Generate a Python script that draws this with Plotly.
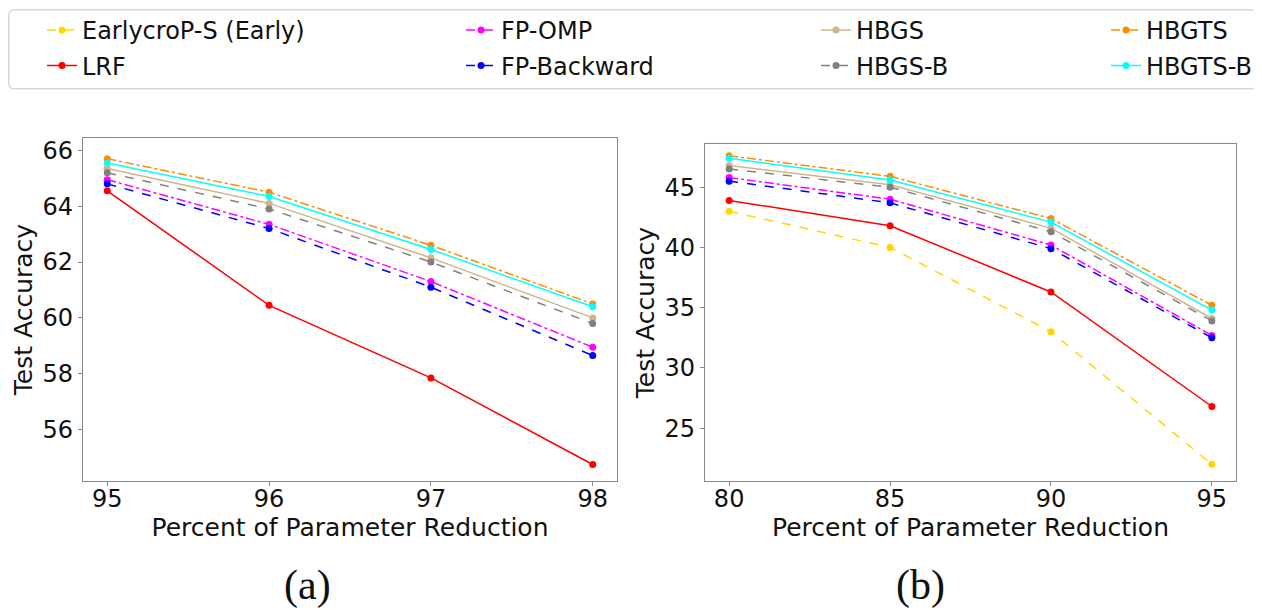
import plotly.graph_objects as go

# ---- data ----
x_a = [95, 96, 97, 98]
x_b = [80, 85, 90, 95]

names = ["EarlycroP-S (Early)", "LRF", "FP-OMP", "FP-Backward",
         "HBGS", "HBGS-B", "HBGTS", "HBGTS-B"]

a_lrf = [64.55, 60.45, 57.85, 54.75]
a_fpomp = [64.95, 63.35, 61.3, 58.95]
a_fpback = [64.8, 63.2, 61.1, 58.65]
a_hbgs = [65.35, 64.1, 62.15, 60.0]
a_hbgsb = [65.2, 63.9, 62.0, 59.8]
a_hbgts = [65.7, 64.5, 62.6, 60.5]
a_hbgtsb = [65.55, 64.35, 62.45, 60.4]

b_early = [43.0, 40.0, 33.0, 22.0]
b_lrf = [43.9, 41.8, 36.3, 26.8]
b_fpomp = [45.8, 44.0, 40.2, 32.7]
b_fpback = [45.5, 43.7, 39.9, 32.5]
b_hbgs = [46.8, 45.2, 41.6, 34.1]
b_hbgsb = [46.5, 45.0, 41.3, 33.9]
b_hbgts = [47.6, 45.9, 42.4, 35.2]
b_hbgtsb = [47.4, 45.6, 42.1, 34.8]

a_ticks = [56, 58, 60, 62, 64, 66]
b_ticks = [25, 30, 35, 40, 45]

styles = {
    "EarlycroP-S (Early)": ("#FFD700", "dash"),
    "LRF": ("#FF0000", "solid"),
    "FP-OMP": ("#FF00FF", "dashdot"),
    "FP-Backward": ("#0000FF", "dash"),
    "HBGS": ("#D2B48C", "solid"),
    "HBGS-B": ("#808080", "dash"),
    "HBGTS": ("#FF8C00", "dashdot"),
    "HBGTS-B": ("#00FFFF", "solid"),
}

series_a = {"LRF": a_lrf, "FP-OMP": a_fpomp, "FP-Backward": a_fpback,
            "HBGS": a_hbgs, "HBGS-B": a_hbgsb, "HBGTS": a_hbgts, "HBGTS-B": a_hbgtsb}
series_b = {"EarlycroP-S (Early)": b_early, "LRF": b_lrf, "FP-OMP": b_fpomp,
            "FP-Backward": b_fpback, "HBGS": b_hbgs, "HBGS-B": b_hbgsb,
            "HBGTS": b_hbgts, "HBGTS-B": b_hbgtsb}

OFF = 8  # page body margin
W, H = 1262 - OFF, 610 - OFF
FONT = "DejaVu Sans"


def px(x):
    return (x - OFF) / W


def py(y):
    return 1 - (y - OFF) / H


fig = go.Figure()

draw_order = ["EarlycroP-S (Early)", "LRF", "FP-OMP", "FP-Backward",
              "HBGS", "HBGS-B", "HBGTS", "HBGTS-B"]

for n in draw_order:
    if n in series_a:
        c, d = styles[n]
        fig.add_trace(go.Scatter(x=x_a, y=series_a[n], mode="lines+markers", name=n,
                                 line=dict(color=c, dash=d, width=1.5),
                                 marker=dict(color=c, size=7),
                                 showlegend=False, xaxis="x", yaxis="y"))

# legend positions (column-major like matplotlib): text start x, row center y
leg_pos = {
    "EarlycroP-S (Early)": (86, 30), "LRF": (86, 66),
    "FP-OMP": (505, 30), "FP-Backward": (505, 66),
    "HBGS": (860, 30), "HBGS-B": (860, 66),
    "HBGTS": (1150, 30), "HBGTS-B": (1150, 66),
}

legend_layout = {}
for i, n in enumerate(draw_order):
    c, d = styles[n]
    lname = "legend" if i == 0 else f"legend{i+1}"
    fig.add_trace(go.Scatter(x=x_b, y=series_b[n], mode="lines+markers", name=n,
                             line=dict(color=c, dash=d, width=1.5),
                             marker=dict(color=c, size=7),
                             showlegend=True, legend=lname, xaxis="x2", yaxis="y2"))
    tx, ty = leg_pos[n]
    legend_layout[lname] = dict(x=px(tx - 44), y=py(ty), xanchor="left", yanchor="middle",
                                bgcolor="rgba(0,0,0,0)", borderwidth=0,
                                font=dict(family=FONT, size=24, color="#111"))

TF = 24
axis_common = dict(showline=True, linecolor="#888", linewidth=1.2, mirror=True,
                   ticks="outside", ticklen=4, tickcolor="#888", showgrid=False, zeroline=False,
                   tickfont=dict(family=FONT, size=TF, color="#111"))
title_font = dict(family=FONT, size=25, color="#111")

# rounded legend frame
x0, x1, y0, y1, r = px(8.8), px(1257), py(88), py(8.8), 6
rx, ry = r / W, r / H
frame = (f"M {x0+rx},{y1} L {x1-rx},{y1} Q {x1},{y1} {x1},{y1-ry} "
         f"L {x1},{y0+ry} Q {x1},{y0} {x1-rx},{y0} L {x0+rx},{y0} "
         f"Q {x0},{y0} {x0},{y0+ry} L {x0},{y1-ry} Q {x0},{y1} {x0+rx},{y1} Z")

fig.update_layout(
    width=W, height=H,
    margin=dict(l=0, r=0, t=0, b=0),
    paper_bgcolor="white", plot_bgcolor="white",
    xaxis=dict(domain=[px(83), px(617)], range=[94.85, 98.15], tickvals=x_a, anchor="y",
               ticklabelstandoff=-8,
               title=dict(text="Percent of Parameter Reduction", font=title_font, standoff=0),
               **axis_common),
    yaxis=dict(domain=[py(481), py(137)], range=[54.15, 66.45], tickvals=a_ticks, anchor="x",
               title=dict(text="Test Accuracy", font=title_font, standoff=2),
               **axis_common),
    xaxis2=dict(domain=[px(705), px(1236)], range=[79.25, 95.75], tickvals=x_b, anchor="y2",
                ticklabelstandoff=-8,
                title=dict(text="Percent of Parameter Reduction", font=title_font, standoff=0),
                **axis_common),
    yaxis2=dict(domain=[py(481), py(143)], range=[20.6, 48.6], tickvals=b_ticks, anchor="x2",
                title=dict(text="Test Accuracy", font=title_font, standoff=2),
                **axis_common),
    shapes=[dict(type="path", xref="paper", yref="paper", path=frame,
                 line=dict(color="#d8d8d8", width=1.5))],
    annotations=[
        dict(text="(a)", x=px(307), y=py(585), xref="paper", yref="paper", showarrow=False,
             xanchor="center", yanchor="middle",
             font=dict(family="Liberation Serif", size=42, color="#111")),
        dict(text="(b)", x=px(920), y=py(585), xref="paper", yref="paper", showarrow=False,
             xanchor="center", yanchor="middle",
             font=dict(family="Liberation Serif", size=42, color="#111")),
    ],
    **legend_layout,
)

fig.write_html("out.html")
